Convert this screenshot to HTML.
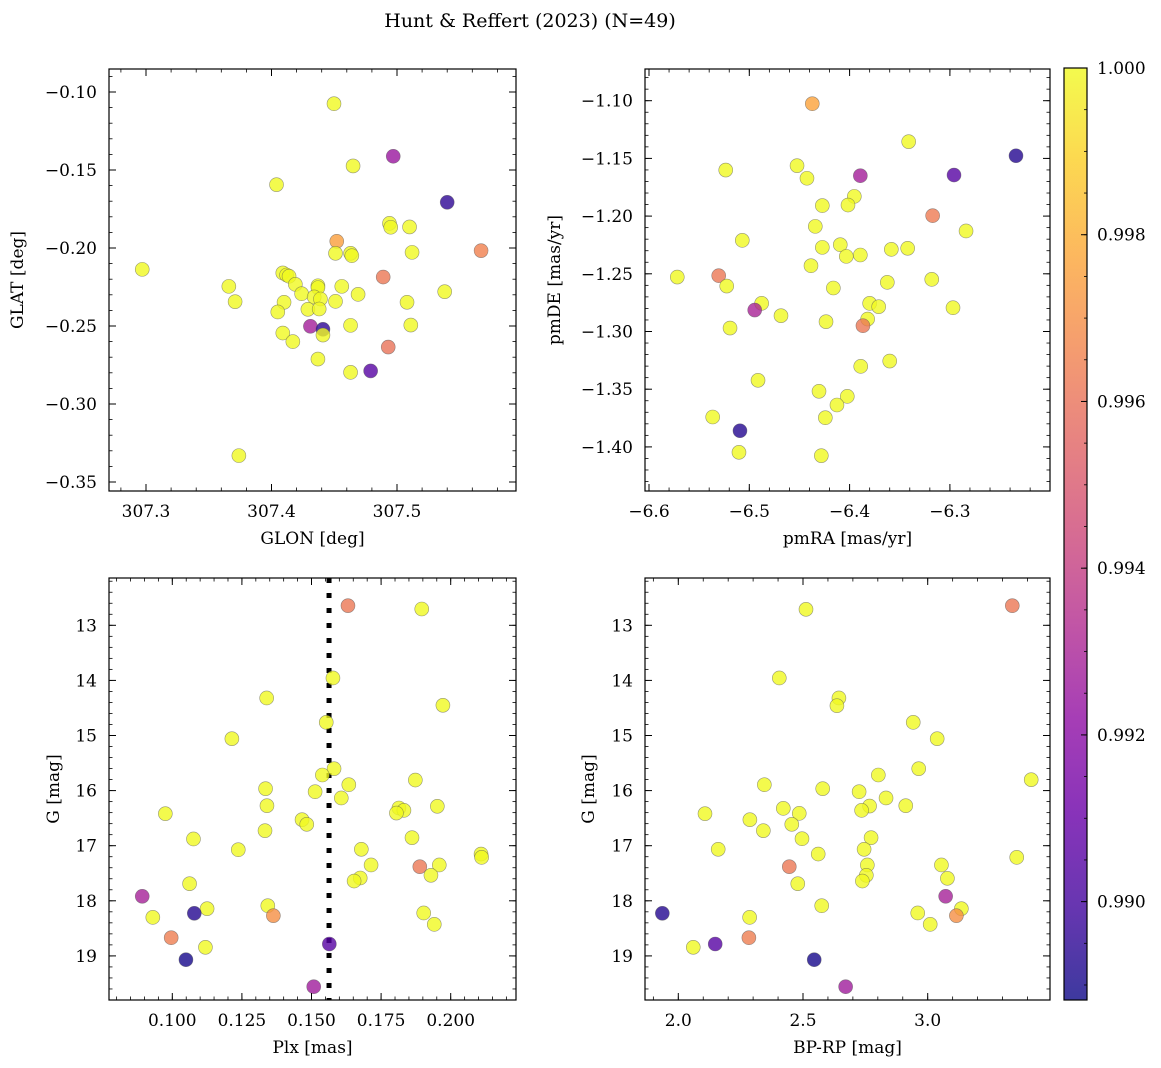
<!DOCTYPE html>
<html><head><meta charset="utf-8"><style>
html,body{margin:0;padding:0;background:#fff;}
svg{display:block;font-family:"DejaVu Serif","Liberation Serif",serif;}
</style></head><body>
<svg id="fig" width="1161" height="1068" viewBox="0 0 1161 1068" xmlns="http://www.w3.org/2000/svg">
<text x="530" y="27" text-anchor="middle" font-size="19">Hunt &amp; Reffert (2023) (N=49)</text>
</svg>
<script>
// ---- Panel 1: GLON vs GLAT
const glonA = [307.4498,307.497,307.465,307.404,307.540,307.494,307.495,307.510,307.452,307.451,307.463,307.464,307.512,307.567,307.297,307.409,307.412,307.414,307.489,307.366,307.419,307.437,307.437,307.456,307.538,307.424,307.469,307.434,307.439,307.371,307.410,307.451,307.508,307.405,307.429,307.438,307.431,307.441,307.441,307.463,307.511,307.409,307.417,307.493,307.437,307.463,307.479,307.374];
const glatA = [-0.1075,-0.1412,-0.1474,-0.1594,-0.1707,-0.1842,-0.1867,-0.1865,-0.1957,-0.2034,-0.2034,-0.2049,-0.2028,-0.2017,-0.2137,-0.2160,-0.2173,-0.2181,-0.2186,-0.2246,-0.2233,-0.2242,-0.2254,-0.2246,-0.2280,-0.2293,-0.2297,-0.2314,-0.2327,-0.2344,-0.2348,-0.2342,-0.2348,-0.2410,-0.2393,-0.2391,-0.2502,-0.2521,-0.2558,-0.2496,-0.2494,-0.2545,-0.2600,-0.2635,-0.2712,-0.2797,-0.2788,-0.3331];
const probA = [1,0.9925,1,1,0.9895,1,1,1,0.9975,1,1,1,1,0.9965,1,1,1,1,0.9962,1,1,1,1,1,1,1,1,1,1,1,1,1,1,1,1,1,0.9928,0.9895,1,1,1,1,1,0.9960,1,1,0.9905,1];
// ---- Panel 2: pmRA vs pmDE
const pmraB = [-6.4372,-6.3411,-6.2341,-6.2959,-6.3893,-6.5235,-6.4524,-6.4425,-6.3953,-6.4016,-6.4272,-6.3172,-6.2839,-6.4342,-6.5070,-6.4272,-6.4093,-6.4033,-6.3893,-6.3584,-6.3421,-6.4385,-6.5718,-6.5305,-6.5225,-6.4162,-6.3624,-6.3181,-6.4877,-6.4946,-6.3800,-6.3710,-6.2969,-6.4684,-6.4235,-6.3820,-6.3867,-6.5192,-6.3600,-6.3889,-6.4913,-6.4305,-6.4023,-6.4126,-6.5365,-6.4242,-6.5093,-6.5103,-6.4282];
const pmdeB = [-1.1026,-1.1355,-1.1477,-1.1644,-1.1650,-1.1601,-1.1563,-1.1672,-1.1829,-1.1904,-1.1909,-1.1996,-1.2129,-1.2089,-1.2210,-1.2271,-1.2248,-1.2349,-1.2337,-1.2288,-1.2279,-1.2430,-1.2528,-1.2516,-1.2606,-1.2623,-1.2574,-1.2548,-1.2756,-1.2814,-1.2756,-1.2785,-1.2794,-1.2863,-1.2915,-1.2892,-1.2950,-1.2970,-1.3256,-1.3302,-1.3423,-1.3518,-1.3562,-1.3637,-1.3741,-1.3747,-1.3860,-1.4047,-1.4076];
const probB = [0.9976,1,0.9893,0.9905,0.9928,1,1,1,1,1,1,0.9963,1,1,1,1,1,1,1,1,1,1,1,0.9962,1,1,1,1,1,0.9930,1,1,1,1,1,1,0.9962,1,1,1,1,1,1,1,1,1,0.9893,1,1];
// ---- Panel 3: Plx vs G
const plxC = [0.1631,0.1896,0.1577,0.1339,0.1972,0.1553,0.1214,0.1581,0.1539,0.1873,0.1634,0.1335,0.1513,0.1607,0.1340,0.1952,0.1814,0.1832,0.1805,0.0975,0.1466,0.1483,0.1333,0.1076,0.1861,0.1237,0.1679,0.2109,0.2111,0.1714,0.1889,0.1959,0.1929,0.1675,0.1653,0.1062,0.0892,0.1343,0.1125,0.1079,0.1363,0.1903,0.0930,0.1941,0.0996,0.1119,0.1564,0.1049,0.1508];
const gC = [12.644,12.704,13.956,14.319,14.452,14.761,15.058,15.602,15.717,15.808,15.893,15.965,16.020,16.134,16.274,16.285,16.316,16.358,16.407,16.419,16.528,16.612,16.727,16.878,16.854,17.073,17.065,17.151,17.211,17.350,17.381,17.350,17.537,17.586,17.641,17.690,17.918,18.089,18.143,18.227,18.270,18.221,18.300,18.427,18.670,18.844,18.784,19.069,19.559];
const probC = [0.9962,1,1,1,1,1,1,1,1,1,1,1,1,1,1,1,1,1,1,1,1,1,1,1,1,1,1,1,1,1,0.9962,1,1,1,1,1,0.9929,1,1,0.9893,0.9970,1,1,1,0.9964,1,0.9905,0.9890,0.9927];
const plxLine = [0.1563];
// ---- Panel 4: BP-RP vs G
const bprpD = [3.3392,2.512,2.405,2.644,2.636,2.942,3.038,2.964,2.802,3.415,2.345,2.579,2.725,2.833,2.912,2.767,2.735,2.421,2.107,2.485,2.287,2.455,2.341,2.496,2.773,2.160,2.745,2.561,3.357,2.758,2.445,3.055,3.079,2.754,2.738,2.479,3.072,2.575,3.135,1.936,3.115,2.960,2.286,3.010,2.283,2.060,2.148,2.545,2.671];
const gD = [12.644,12.710,13.956,14.319,14.459,14.761,15.058,15.602,15.717,15.802,15.893,15.965,16.020,16.134,16.274,16.280,16.358,16.322,16.419,16.413,16.528,16.612,16.727,16.873,16.854,17.065,17.065,17.151,17.211,17.350,17.381,17.350,17.592,17.537,17.641,17.690,17.918,18.089,18.143,18.227,18.270,18.221,18.300,18.427,18.670,18.844,18.784,19.069,19.559];
const probD = [0.9962,1,1,1,1,1,1,1,1,1,1,1,1,1,1,1,1,1,1,1,1,1,1,1,1,1,1,1,1,1,0.9962,1,1,1,1,1,0.9929,1,1,0.9893,0.9970,1,1,1,0.9964,1,0.9905,0.9890,0.9927];
// ticks
const ticksAx = ["307.3","307.4","307.5"];
const ticksAy = ["−0.10","−0.15","−0.20","−0.25","−0.30","−0.35"];
const ticksBx = ["−6.6","−6.5","−6.4","−6.3"];
const ticksBy = ["−1.10","−1.15","−1.20","−1.25","−1.30","−1.35","−1.40"];
const ticksCx = ["0.100","0.125","0.150","0.175","0.200"];
const ticksGy = ["13","14","15","16","17","18","19"];
const ticksDx = ["2.0","2.5","3.0"];
const cbTicks = ["1.000","0.998","0.996","0.994","0.992","0.990"];
const VMIN = 0.98882, VMAX = 1.0;

const NS = "http://www.w3.org/2000/svg";
const svg = document.getElementById('fig');
function mk(tag, attrs, parent){ const e=document.createElementNS(NS,tag); for(const k in attrs) e.setAttribute(k,attrs[k]); (parent||svg).appendChild(e); return e; }
const plasma = ["#0d0887","#41049d","#6a00a8","#8f0da4","#b12a90","#cc4778","#e16462","#f2844b","#fca636","#fcce25","#f0f921"];
function hex(h){return [parseInt(h.substr(1,2),16),parseInt(h.substr(3,2),16),parseInt(h.substr(5,2),16)];}
function cmap(t){ t=Math.max(0,Math.min(1,t)); const f=t*10, i=Math.min(9,Math.floor(f)), r=f-i; const a=hex(plasma[i]), b=hex(plasma[i+1]); return 'rgb('+a.map((v,k)=>Math.round(v+(b[k]-v)*r)).join(',')+')'; }
function pcol(p){ return cmap((p-VMIN)/(VMAX-VMIN)); }

function panel(cfg){
  const g = mk('g',{});
  
  
  const {x0,x1,y0,y1} = cfg.rect;
  const sx = v => cfg.xPix0 + (v - cfg.xVal0)*cfg.xScale;
  const sy = v => cfg.yPix0 + (v - cfg.yVal0)*cfg.yScale;
  const clipId = cfg.name+'-clip';
  const cp = mk('clipPath',{id:clipId},g); mk('rect',{x:x0,y:y0,width:x1-x0,height:y1-y0},cp);
  const pts = mk('g',{'clip-path':'url(#'+clipId+')'},g);
  
  
  if(cfg.vline!==undefined){
    const l = mk('line',{x1:sx(cfg.vline),x2:sx(cfg.vline),y1:y0,y2:y1,stroke:'#000','stroke-width':5,'stroke-dasharray':'5,10'},pts);
    
    
  }
  for(let i=0;i<cfg.xs.length;i++){
    const c = mk('circle',{cx:sx(cfg.xs[i]),cy:sy(cfg.ys[i]),r:7,fill:pcol(cfg.ps[i]),'fill-opacity':0.8,stroke:'#555','stroke-opacity':0.6,'stroke-width':0.6},pts);
    
    
  }
  mk('rect',{x:x0,y:y0,width:x1-x0,height:y1-y0,fill:'none',stroke:'#000','stroke-width':1.2},g);
  cfg.xTicks.forEach((lab,i)=>{
    const v = cfg.xVal0 + i*cfg.xStep, px = sx(v);
    mk('line',{x1:px,x2:px,y1:y1,y2:y1-7,stroke:'#000','stroke-width':1},g);
    mk('line',{x1:px,x2:px,y1:y0,y2:y0+7,stroke:'#000','stroke-width':1},g);
    const t = mk('text',{x:px,y:y1+26,'text-anchor':'middle','font-size':17},g); t.textContent=lab;
    
    
  });
  const mstep = cfg.xStep/5;
  for(let k=-20;k<=60;k++){
    const px=sx(cfg.xVal0+k*mstep); if(px<=x0+1||px>=x1-1) continue;
    mk('line',{x1:px,x2:px,y1:y1,y2:y1-3.5,stroke:'#000','stroke-width':0.8},g);
    mk('line',{x1:px,x2:px,y1:y0,y2:y0+3.5,stroke:'#000','stroke-width':0.8},g);
  }
  cfg.yTicks.forEach((lab,i)=>{
    const v = cfg.yVal0 + i*cfg.yStep, py = sy(v);
    mk('line',{x1:x0,x2:x0+7,y1:py,y2:py,stroke:'#000','stroke-width':1},g);
    mk('line',{x1:x1,x2:x1-7,y1:py,y2:py,stroke:'#000','stroke-width':1},g);
    const t = mk('text',{x:x0-12,y:py+6,'text-anchor':'end','font-size':17},g); t.textContent=lab;
    
    
  });
  const ystep = cfg.yStep/5;
  for(let k=-20;k<=60;k++){
    const py=sy(cfg.yVal0+k*ystep); if(py<=y0+1||py>=y1-1) continue;
    mk('line',{x1:x0,x2:x0+3.5,y1:py,y2:py,stroke:'#000','stroke-width':0.8},g);
    mk('line',{x1:x1,x2:x1-3.5,y1:py,y2:py,stroke:'#000','stroke-width':0.8},g);
  }
  const xl = mk('text',{x:(x0+x1)/2,y:y1+53,'text-anchor':'middle','font-size':17},g); xl.textContent=cfg.xLabel;
  
  
  const yl = mk('text',{x:0,y:0,'text-anchor':'middle','font-size':17,transform:'translate('+cfg.yLabelX+','+(y0+y1)/2+') rotate(-90)'},g); yl.textContent=cfg.yLabel;
  
  
}

panel({name:'glon-glat-panel',rect:{x0:109,x1:516,y0:69,y1:491},xs:glonA,ys:glatA,ps:probA,
  xPix0:146,xVal0:307.3,xScale:1255,xStep:0.1,yPix0:92,yVal0:-0.10,yScale:-1560,yStep:-0.05,
  xTicks:ticksAx,yTicks:ticksAy,xLabel:'GLON [deg]',yLabel:'GLAT [deg]',yLabelX:23});
panel({name:'pmra-pmde-panel',rect:{x0:645,x1:1050,y0:69,y1:491},xs:pmraB,ys:pmdeB,ps:probB,
  xPix0:649,xVal0:-6.6,xScale:1003,xStep:0.1,yPix0:100.7,yVal0:-1.10,yScale:-1154,yStep:-0.05,
  xTicks:ticksBx,yTicks:ticksBy,xLabel:'pmRA [mas/yr]',yLabel:'pmDE [mas/yr]',yLabelX:560});
panel({name:'plx-g-panel',rect:{x0:109,x1:516,y0:578,y1:1000},xs:plxC,ys:gC,ps:probC,vline:plxLine[0],
  xPix0:172.3,xVal0:0.100,xScale:2784,xStep:0.025,yPix0:625.3,yVal0:13,yScale:55.1,yStep:1,
  xTicks:ticksCx,yTicks:ticksGy,xLabel:'Plx [mas]',yLabel:'G [mag]',yLabelX:59});
panel({name:'bprp-g-panel',rect:{x0:645,x1:1050,y0:578,y1:1000},xs:bprpD,ys:gD,ps:probD,
  xPix0:678.3,xVal0:2.0,xScale:249.4,xStep:0.5,yPix0:625.3,yVal0:13,yScale:55.1,yStep:1,
  xTicks:ticksDx,yTicks:ticksGy,xLabel:'BP-RP [mag]',yLabel:'G [mag]',yLabelX:594});

// colorbar
(function(){
  const g = mk('g',{});
  
  
  const cx0=1064, cx1=1087, cy0=68, cy1=1000;
  const defs = mk('defs',{},g);
  const lg = mk('linearGradient',{id:'cbgrad',x1:0,y1:1,x2:0,y2:0},defs);
  for(let i=0;i<=20;i++){ mk('stop',{offset:(i/20),'stop-color':cmap(i/20),'stop-opacity':0.8},lg); }
  mk('rect',{x:cx0,y:cy0,width:cx1-cx0,height:cy1-cy0,fill:'url(#cbgrad)',stroke:'#000','stroke-width':1.2},g);
  const cy = v => cy1 - (v-VMIN)/(VMAX-VMIN)*(cy1-cy0);
  cbTicks.forEach((lab)=>{
    const py = cy(parseFloat(lab));
    mk('line',{x1:cx1,x2:cx1-6,y1:py,y2:py,stroke:'#000','stroke-width':1},g);
    const t = mk('text',{x:1097,y:py+6,'font-size':17},g); t.textContent=lab;
    
    
  });
  for(let k=0;k<30;k++){
    const py=cy(VMAX-k*0.0005); if(py<=cy0+1||py>=cy1-1) continue;
    mk('line',{x1:cx1,x2:cx1-3,y1:py,y2:py,stroke:'#000','stroke-width':0.8},g);
  }
})();
</script>
</body></html>
